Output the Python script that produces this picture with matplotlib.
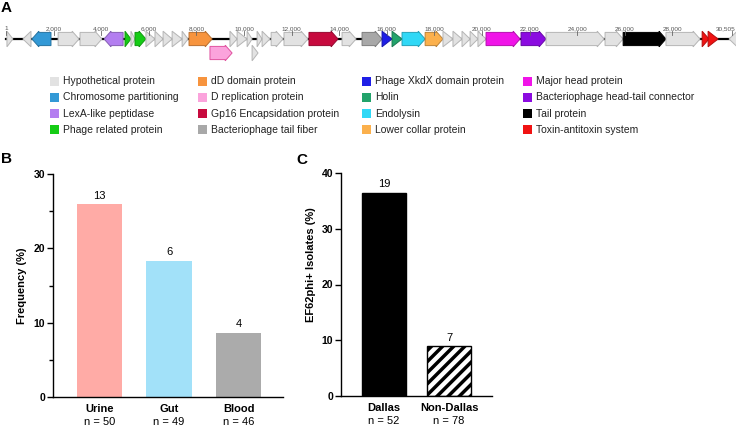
import matplotlib.pyplot as plt
from matplotlib.colors import to_rgb
from matplotlib.patches import Polygon, Rectangle

plt.rcParams['font.family'] = ['Liberation Sans', 'DejaVu Sans']
plt.rcParams['hatch.linewidth'] = 2.5

# ---- panel A: phage genome map ----
categories = [
    'Hypothetical protein', 'Chromosome partitioning', 'LexA-like peptidase', 'Phage related protein',
    'dD domain protein', 'D replication protein', 'Gp16 Encapsidation protein', 'Bacteriophage tail fiber',
    'Phage XkdX domain protein', 'Holin', 'Endolysin', 'Lower collar protein',
    'Major head protein', 'Bacteriophage head-tail connector', 'Tail protein', 'Toxin-antitoxin system',
]
category_colors = [
    '#e2e2e2', '#3399d6', '#b37ef0', '#15cc15',
    '#f7943e', '#fba3dc', '#c70a3e', '#a8a8a8',
    '#1f1fe6', '#22a36b', '#30d8f6', '#fbb04c',
    '#f014e8', '#8b0be0', '#000000', '#f01212',
]

gene_start = [40, 710, 1090, 2190, 3110, 4120, 5000, 5250, 5420, 5880, 6260, 6600, 6980, 7400, 7690,
              8570, 9410, 9710, 10130, 10340, 10550, 10760, 11140, 11680, 12730, 14120, 14960, 15800,
              16220, 16640, 17610, 18360, 18780, 19160, 19500, 19830, 20170, 21640, 22690, 25170,
              25930, 27730, 29250, 29500, 30380]
gene_end = [290, 1050, 1890, 3070, 4030, 4920, 5250, 5420, 5880, 6260, 6600, 6980, 7400, 7650, 8660,
            9500, 9710, 10130, 10340, 10590, 10760, 11090, 11640, 12690, 13950, 14710, 15800, 16220,
            16640, 17610, 18360, 18780, 19160, 19500, 19830, 20170, 21600, 22690, 25130, 25930,
            27730, 29160, 29540, 29920, 30720]
gene_strand = [1, -1, -1, 1, 1, -1, 1, 1, 1, 1, 1, 1, 1, 1, 1,
               1, 1, 1, 1, 1, 1, 1, 1, 1, 1, 1, 1, 1,
               1, 1, 1, 1, 1, 1, 1, 1, 1, 1, 1, 1,
               1, 1, 1, 1, -1]
gene_kind = [0, 0, 1, 0, 0, 2, 3, 0, 3, 0, 0, 0, 0, 0, 4,
             5, 0, 0, 0, 0, 0, 0, 0, 0, 6, 0, 7, 8,
             9, 10, 11, 0, 0, 0, 0, 0, 12, 13, 0, 0,
             14, 0, 15, 15, 0]
gene_row = [0] * 15 + [1, 0, 0, 0, 1] + [0] * 25

genome_ticks = [1] + list(range(2000, 30000, 2000)) + [30505]

# ---- panel B ----
source_names = ['Urine', 'Gut', 'Blood']
source_n = [50, 49, 46]
source_pos = [13, 6, 4]
source_freq = [25.9, 18.3, 8.65]
source_colors = ['#ffaba6', '#a2e1f9', '#ababab']

# ---- panel C ----
site_names = ['Dallas', 'Non-Dallas']
site_n = [52, 78]
site_pos = [19, 7]
site_pct = [36.5, 8.9]

W, H = 736, 426
fig = plt.figure(figsize=(W / 100, H / 100), dpi=100)

# map axes: x in bp, y in pixels from top
PX_PER_BP = 0.0238
X0 = 6
MAP_H = 62
axm = fig.add_axes([0, 1 - MAP_H / H, 1, MAP_H / H])
axm.set_xlim(-X0 / PX_PER_BP, (W - X0) / PX_PER_BP)
axm.set_ylim(MAP_H, 0)
axm.axis('off')

row_y = [39, 53]
body_h, head_h, head_len = 6.6, 7.8, 290

axm.plot([0, 30800], [row_y[0], row_y[0]], color='black', lw=1.6, zorder=1)


def darker(c, f=0.75):
    r, g, b = to_rgb(c)
    return (r * f, g * f, b * f)


for s, e, st, k, r in zip(gene_start, gene_end, gene_strand, gene_kind, gene_row):
    y = row_y[r]
    length = e - s
    if length <= 420:
        pts = [(0, -head_h), (length, 0), (0, head_h)]
    else:
        hl = head_len
        pts = [(0, -body_h), (length - hl, -body_h), (length - hl, -head_h), (length, 0),
               (length - hl, head_h), (length - hl, body_h), (0, body_h)]
    if st > 0:
        pts = [(s + dx, y + dy) for dx, dy in pts]
    else:
        pts = [(e - dx, y + dy) for dx, dy in pts]
    fc = category_colors[k]
    ec = '#b5b5b5' if k == 0 else darker(fc)
    if k == 5:
        ec = '#e0529f'
    axm.add_patch(Polygon(pts, closed=True, fc=fc, ec=ec, lw=0.7, zorder=2))

for t in genome_ticks:
    axm.plot([t, t], [31, 34.5], color='#666666', lw=0.6, zorder=3)
    if t == genome_ticks[-1]:
        axm.text(t + 160, 28.5, f'{t:,}', fontsize=4.6, color='#555555', ha='right', va='center')
    else:
        axm.text(t, 28.5, f'{t:,}', fontsize=4.6, color='#555555', ha='center', va='center')

# overlay for letters and legend, in pixel coords
ov = fig.add_axes([0, 0, 1, 1], zorder=-1)
ov.set_xlim(0, W)
ov.set_ylim(H, 0)
ov.axis('off')

ov.text(1, 8, 'A', fontsize=11, fontweight='bold', va='center', ha='left')
ov.text(1, 159, 'B', fontsize=11, fontweight='bold', va='center', ha='left')
ov.text(296, 160, 'C', fontsize=11, fontweight='bold', va='center', ha='left')

leg_cols = [50, 198, 362, 523]
leg_rows = [81.3, 97.5, 113.6, 129.7]
for i, name in enumerate(categories):
    cx = leg_cols[i // 4]
    cy = leg_rows[i % 4]
    ov.add_patch(Rectangle((cx, cy - 4.6), 9.2, 9.2, fc=category_colors[i], ec='none'))
    ov.text(cx + 13, cy, name, fontsize=7.5, color='#222222', va='center', ha='left')


def style_axis(ax):
    for side in ['top', 'right']:
        ax.spines[side].set_visible(False)
    for side in ['left', 'bottom']:
        ax.spines[side].set_linewidth(1.0)
    ax.tick_params(axis='y', which='major', length=4, width=1.0, labelsize=7.5, pad=1.5)
    ax.tick_params(axis='y', which='minor', length=3, width=1.0)
    ax.tick_params(axis='x', length=0, labelbottom=False)
    for lab in ax.get_yticklabels():
        lab.set_fontweight('bold')


def category_labels(ax, names, ns):
    for i, (nm, n) in enumerate(zip(names, ns)):
        ax.annotate(nm, xy=(i, 0), xycoords=('data', 'axes fraction'), xytext=(0, -8.6),
                    textcoords='offset points', ha='center', va='center',
                    fontsize=8, fontweight='bold')
        ax.annotate(f'n = {n}', xy=(i, 0), xycoords=('data', 'axes fraction'), xytext=(0, -18),
                    textcoords='offset points', ha='center', va='center', fontsize=8)


# panel B
axb = fig.add_axes([53 / W, 1 - 397 / H, 230 / W, 223 / H])
x_b = list(range(len(source_names)))
axb.bar(x_b, source_freq, width=0.65, color=source_colors)
axb.set_xlim(-0.67, 2.64)
axb.set_ylim(0, 30)
axb.set_yticks([0, 10, 20, 30])
axb.set_yticks([5, 15, 25], minor=True)
style_axis(axb)
for i, (v, c) in enumerate(zip(source_freq, source_pos)):
    axb.annotate(str(c), xy=(i, v), xytext=(0, 2.5), textcoords='offset points',
                 ha='center', va='bottom', fontsize=8)
category_labels(axb, source_names, source_n)
axb.set_ylabel('Frequency (%)', fontsize=8, fontweight='bold')
axb.yaxis.set_label_coords(-0.113, 0.5)

# panel C
axc = fig.add_axes([341 / W, 1 - 396 / H, 151 / W, 223 / H])
x_c = list(range(len(site_names)))
bars = axc.bar(x_c, site_pct, width=0.68, color=['black', 'white'], edgecolor='black', linewidth=1.0)
bars[1].set_hatch('///')
axc.set_xlim(-0.66, 1.66)
axc.set_ylim(0, 40)
axc.set_yticks([0, 10, 20, 30, 40])
style_axis(axc)
for i, (v, c) in enumerate(zip(site_pct, site_pos)):
    axc.annotate(str(c), xy=(i, v), xytext=(0, 2.5), textcoords='offset points',
                 ha='center', va='bottom', fontsize=8)
category_labels(axc, site_names, site_n)
axc.set_ylabel('EF62phi+ Isolates (%)', fontsize=8, fontweight='bold')
axc.yaxis.set_label_coords(-0.166, 0.587)

fig.savefig('out.png', dpi=100)
